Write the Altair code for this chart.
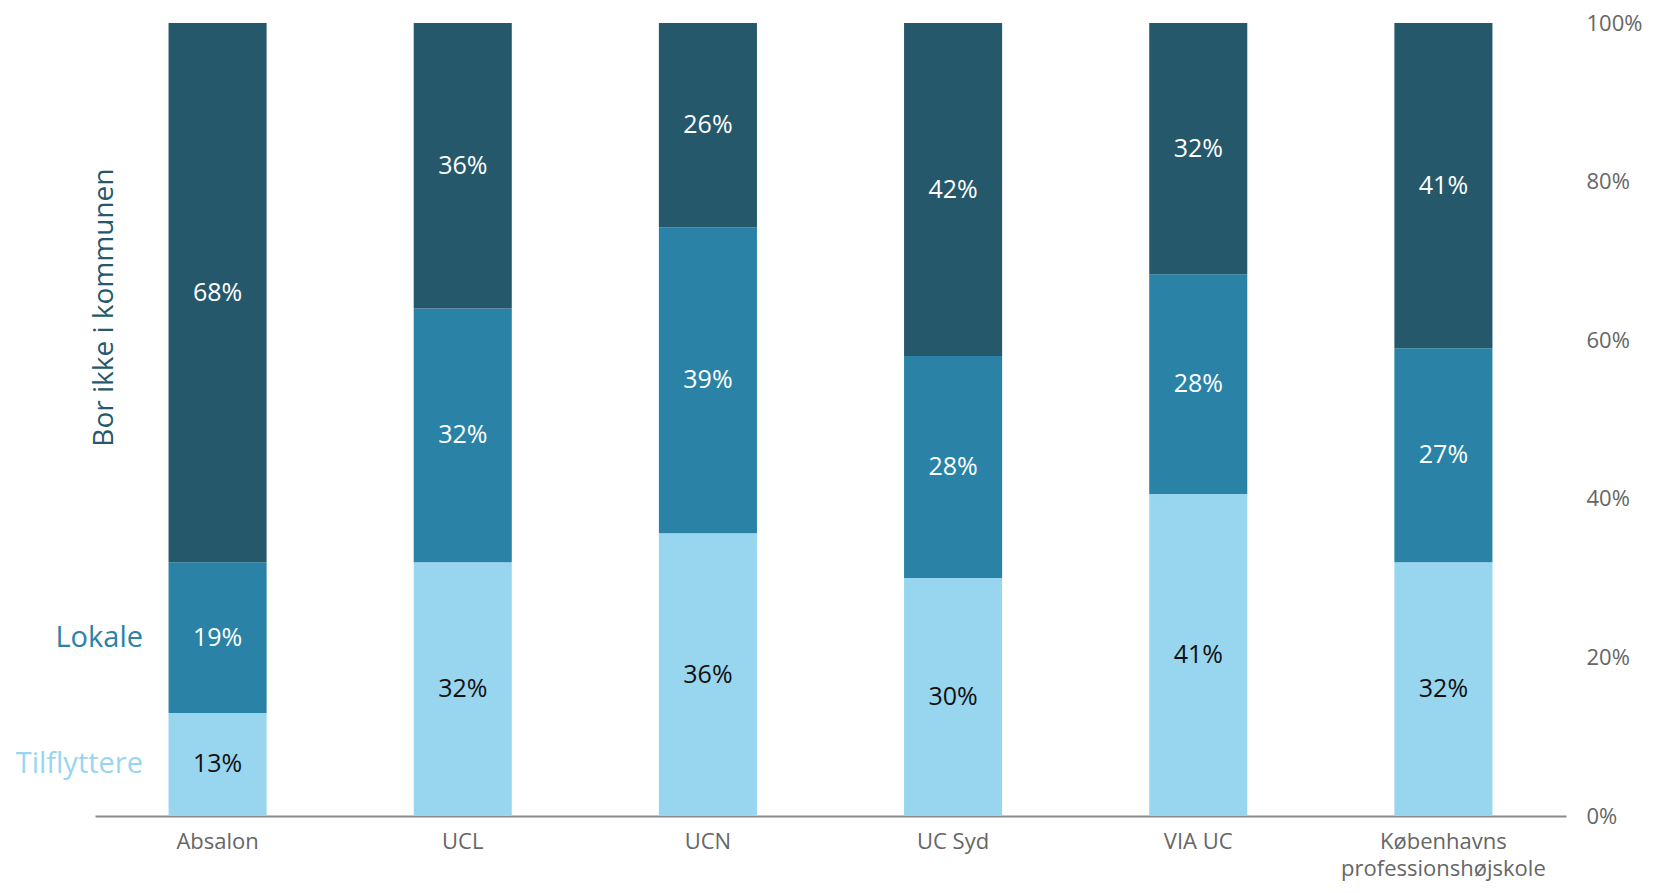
import altair as alt
import pandas as pd

institutions = ["Absalon", "UCL", "UCN", "UC Syd", "VIA UC", "Københavns professionshøjskole"]
groups = ["Tilflyttere", "Lokale", "Bor ikke i kommunen"]
tilflyttere = [13, 32, 36, 30, 41, 32]
lokale = [19, 32, 39, 28, 28, 27]
bor_ikke = [68, 36, 26, 42, 32, 41]
y_ticks = [0, 0.2, 0.4, 0.6, 0.8, 1.0]

rows = []
for i, inst in enumerate(institutions):
    for gi, (g, vals) in enumerate(zip(groups, [tilflyttere, lokale, bor_ikke])):
        rows.append({"inst": inst, "group": g, "order": gi, "value": vals[i]})
df = pd.DataFrame(rows)

DARK = "#26586B"
MID = "#2A83A6"
LIGHT = "#98D6F0"
FONT = "Open Sans"

color_scale = alt.Scale(domain=groups, range=[LIGHT, MID, DARK])

base = alt.Chart(df).transform_joinaggregate(
    total="sum(value)", groupby=["inst"]
).transform_calculate(
    frac="datum.value / datum.total"
).transform_stack(
    stack="frac", groupby=["inst"], as_=["y0", "y1"],
    sort=[alt.SortField("order", order="ascending")]
).transform_calculate(
    mid="(datum.y0 + datum.y1) / 2"
)

x_enc = alt.X(
    "inst:N", sort=institutions, title=None,
    scale=alt.Scale(paddingInner=0.6, paddingOuter=0.3),
    axis=alt.Axis(
        labelAngle=0, labelFontSize=22, labelColor="#666666", labelFont=FONT,
        labelPadding=15, ticks=False, domainColor="#8a8a8a", domainWidth=2,
        labelLineHeight=27, labelLimit=0,
        labelExpr="length(datum.value) > 20 ? split(datum.value, ' ') : datum.value",
    ),
)

bars = base.mark_bar().encode(
    x=x_enc,
    y=alt.Y(
        "y0:Q", title=None,
        scale=alt.Scale(domain=[0, 1], nice=False),
        axis=alt.Axis(
            orient="right", format=".0%", values=y_ticks, grid=False, ticks=False,
            domain=False, labelFontSize=22, labelColor="#666666", labelFont=FONT,
            labelPadding=20,
        ),
    ),
    y2="y1:Q",
    color=alt.Color("group:N", scale=color_scale, legend=None),
)

labels = base.mark_text(fontSize=25, font=FONT, baseline="middle").transform_calculate(
    lab="datum.value + '%'"
).encode(
    x=alt.X("inst:N", sort=institutions),
    y=alt.Y("mid:Q"),
    text="lab:N",
    color=alt.condition(alt.datum.group == "Tilflyttere", alt.value("#111111"), alt.value("#ffffff")),
)

side_base = base.transform_filter(alt.datum.inst == institutions[0])

side_small = side_base.transform_filter(alt.datum.group != "Bor ikke i kommunen").mark_text(
    fontSize=29, font=FONT, align="right", baseline="middle"
).encode(
    x=alt.value(48),
    y=alt.Y("mid:Q"),
    text="group:N",
    color=alt.Color("group:N", scale=color_scale, legend=None),
)

side_big = side_base.transform_filter(alt.datum.group == "Bor ikke i kommunen").mark_text(
    fontSize=28, font=FONT, align="center", baseline="middle", angle=270, dx=-15
).encode(
    x=alt.value(10),
    y=alt.Y("mid:Q"),
    text="group:N",
    color=alt.Color("group:N", scale=color_scale, legend=None),
)

chart = alt.layer(bars, labels, side_small, side_big).properties(
    width=1471, height=793,
    autosize=alt.AutoSizeParams(type="none"),
    padding={"left": 87, "top": 15, "right": 77, "bottom": 69},
).configure_view(stroke=None)

chart.save("out.html", embed_options={"renderer": "svg", "actions": False})
